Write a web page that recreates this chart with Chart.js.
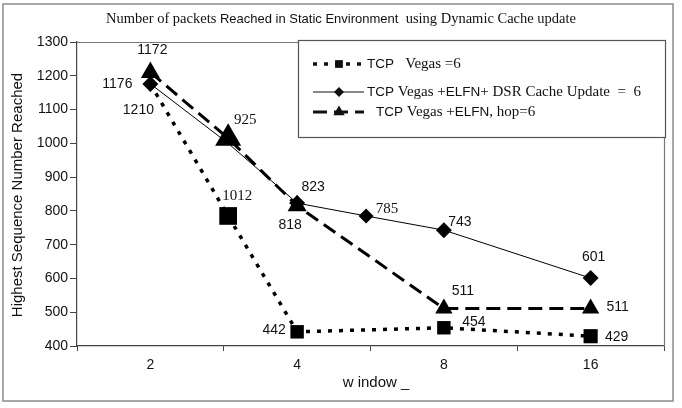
<!DOCTYPE html>
<html>
<head>
<meta charset="utf-8">
<script src="https://cdn.jsdelivr.net/npm/chart.js@4.4.0/dist/chart.umd.min.js"></script>
<style>
  html, body { margin: 0; background: #fff; }
  #wrap { width: 682px; height: 408px; }
</style>
</head>
<body>
<div id="wrap"><canvas id="c"></canvas></div>
<script>
  // Data block
  const xLabels = ['2', '4', '8', '16'];          // category tick labels (positions 0..3)
  const yTicks  = [400, 500, 600, 700, 800, 900, 1000, 1100, 1200, 1300];

  const vegasX      = [0, 0.53, 1, 2, 3];
  const vegasY      = [1176, 785, 442, 454, 429];
  const vegasText   = ['1210', '1012', '442', '454', '429'];

  const dsrX        = [0, 0.53, 1, 1.47, 2, 3];
  const dsrY        = [1176, 1000, 823, 785, 743, 601];
  const dsrText     = ['1176', '', '823', '785', '743', '601'];

  const elfnX       = [0, 0.53, 1, 2, 3];
  const elfnY       = [1210, 1015, 815, 511, 511];
  const elfnText    = ['1172', '925', '818', '511', '511'];

  const seriesNames = [
    'TCP  Vegas =6',
    'TCP Vegas +ELFN+ DSR Cache Update  =  6',
    'TCP Vegas +ELFN, hop=6'
  ];

  const SANS  = '"Liberation Sans", Arial, sans-serif';
  const SERIF = '"Liberation Serif", "Times New Roman", serif';

  const pts = (xs, ys) => xs.map((x, i) => ({ x: x, y: ys[i] }));

  // label offsets (dx, dy) and font per point
  const labelStyle = [
    [[-12, 26, SANS], [9, -20, SERIF], [-23, -2, SANS], [30, -6, SANS], [26, 1, SANS]],
    [[-33, 0, SANS], [0, 0, SANS], [16, -16, SANS], [21, -7, SERIF], [16, -8, SANS], [3, -21, SANS]],
    [[2, -22, SANS], [17, -18, SERIF], [-7, 19, SANS], [19, -17, SANS], [27, -1, SANS]]
  ];
  const labelTexts = [vegasText, dsrText, elfnText];

  // Drawing helpers
  function marker(ctx, style, x, y, r) {
    ctx.beginPath();
    if (style === 'rect') {
      const s = r * Math.SQRT1_2;
      ctx.rect(x - s, y - s, 2 * s, 2 * s);
    } else if (style === 'rectRot') {
      ctx.moveTo(x, y - r); ctx.lineTo(x + r, y); ctx.lineTo(x, y + r); ctx.lineTo(x - r, y);
      ctx.closePath();
    } else {
      ctx.moveTo(x, y - r);
      ctx.lineTo(x + r * 0.866, y + r * 0.5);
      ctx.lineTo(x - r * 0.866, y + r * 0.5);
      ctx.closePath();
    }
    ctx.fill();
  }

  function rich(ctx, parts, x, y, align) {
    let total = 0;
    parts.forEach(p => { ctx.font = p[1]; total += ctx.measureText(p[0]).width; });
    let cx = align === 'center' ? x - total / 2 : x;
    ctx.textAlign = 'left';
    parts.forEach(p => {
      ctx.font = p[1];
      ctx.fillText(p[0], cx, y);
      cx += ctx.measureText(p[0]).width;
    });
  }

  // Plugin - decorations (frame, title, legend, point labels)
  const decor = {
    id: 'decor',
    afterDraw(chart) {
      const { ctx, chartArea: a } = chart;
      ctx.save();

      // outer frame
      ctx.strokeStyle = '#8a8a8a';
      ctx.lineWidth = 1.5;
      ctx.strokeRect(3, 4, 670, 397);

      // plot area top & right border
      ctx.strokeStyle = '#777';
      ctx.lineWidth = 1.2;
      ctx.beginPath();
      ctx.moveTo(a.left, a.top + 0.5); ctx.lineTo(a.right + 0.5, a.top + 0.5); ctx.lineTo(a.right + 0.5, a.bottom);
      ctx.stroke();

      ctx.fillStyle = '#111';
      ctx.textBaseline = 'middle';

      // title
      rich(ctx, [
        ['Number of packets', '14.5px ' + SERIF],
        [' Reached in Static Environment ', '13px ' + SANS],
        [' using Dynamic Cache update', '14.5px ' + SERIF]
      ], 341, 19, 'center');

      // axis titles
      ctx.font = '15px ' + SANS;
      ctx.textAlign = 'center';
      ctx.fillText('w indow _', 376, 383);
      ctx.save();
      ctx.translate(18, 195);
      ctx.rotate(-Math.PI / 2);
      ctx.fillText('Highest Sequence Number Reached', 0, 0);
      ctx.restore();

      // legend box
      ctx.fillStyle = '#fff';
      ctx.fillRect(298, 40, 368, 98);
      ctx.strokeStyle = '#555';
      ctx.lineWidth = 1.2;
      ctx.strokeRect(298.5, 40.5, 367, 97);

      ctx.fillStyle = '#111';
      ctx.strokeStyle = '#111';
      const rows = [64, 92, 112];
      const legR = [5.5, 5, 6.5];
      chart.data.datasets.forEach((ds, i) => {
        const y = rows[i];
        ctx.lineWidth = ds.borderWidth;
        ctx.setLineDash(ds.borderDash || []);
        ctx.beginPath();
        ctx.moveTo(313, y); ctx.lineTo(364, y);
        ctx.stroke();
        ctx.setLineDash([]);
        marker(ctx, ds.pointStyle, 339, y, legR[i]);
      });
      ctx.textBaseline = 'middle';
      rich(ctx, [['TCP', '13.5px ' + SANS], ['   Vegas =6', '15px ' + SERIF]], 367, 64, 'left');
      rich(ctx, [['TCP', '13.5px ' + SANS], [' Vegas +', '15px ' + SERIF], ['ELFN', '13.5px ' + SANS],
                 ['+ DSR Cache Update  =  6', '15px ' + SERIF]], 367, 92, 'left');
      rich(ctx, [['TCP', '13.5px ' + SANS], [' Vegas +', '15px ' + SERIF], ['ELFN', '13.5px ' + SANS],
                 [', hop=6', '15px ' + SERIF]], 376, 112, 'left');

      // point labels
      ctx.textAlign = 'center';
      chart.data.datasets.forEach((ds, i) => {
        const meta = chart.getDatasetMeta(i);
        meta.data.forEach((el, j) => {
          const t = labelTexts[i][j];
          if (!t) return;
          const st = labelStyle[i][j];
          ctx.font = (st[2] === SERIF ? '15px ' : '14px ') + st[2];
          ctx.fillText(t, el.x + st[0], el.y + st[1]);
        });
      });

      ctx.restore();
    }
  };

  // Config block
  const config = {
    type: 'line',
    data: {
      datasets: [
        {
          label: seriesNames[0],
          data: pts(vegasX, vegasY),
          borderColor: '#000',
          backgroundColor: '#000',
          borderWidth: 3.5,
          borderDash: [4, 7],
          pointStyle: 'rect',
          pointRadius: [0, 12.5, 9.5, 9.5, 10],
          pointBorderWidth: 0,
          order: 3
        },
        {
          label: seriesNames[1],
          data: pts(dsrX, dsrY),
          borderColor: '#000',
          backgroundColor: '#000',
          borderWidth: 1,
          pointStyle: 'rectRot',
          pointRadius: [8, 0, 8, 7.5, 8, 8],
          pointBorderWidth: 0,
          order: 2
        },
        {
          label: seriesNames[2],
          data: pts(elfnX, elfnY),
          borderColor: '#000',
          backgroundColor: '#000',
          borderWidth: 3,
          borderDash: [14, 7],
          pointStyle: 'triangle',
          pointRadius: [11, 15, 11, 10, 10],
          pointBorderWidth: 0,
          order: 1
        }
      ]
    },
    options: {
      responsive: true,
      maintainAspectRatio: false,
      animation: false,
      layout: { padding: { top: 42, right: 18, left: 0, bottom: 0 } },
      plugins: { legend: { display: false }, tooltip: { enabled: false } },
      scales: {
        x: {
          type: 'linear',
          min: -0.5,
          max: 3.5,
          afterFit: s => { s.height = 62; },
          afterBuildTicks: s => {
            const t = [];
            for (let v = -0.5; v <= 3.5; v += 0.5) t.push({ value: v });
            s.ticks = t;
          },
          ticks: {
            autoSkip: false,
            maxRotation: 0,
            padding: 6,
            color: '#111',
            font: { family: SANS, size: 14 },
            callback: v => Number.isInteger(v) ? xLabels[v] : ''
          },
          grid: {
            drawOnChartArea: false,
            tickLength: 5,
            color: c => (c.tick && !Number.isInteger(c.tick.value)) ? '#444' : 'rgba(0,0,0,0)'
          },
          border: { color: '#444', width: 1.2 }
        },
        y: {
          min: 400,
          max: 1300,
          afterFit: s => { s.width = 77; },
          afterBuildTicks: s => { s.ticks = yTicks.map(v => ({ value: v })); },
          ticks: {
            padding: 2,
            color: '#111',
            font: { family: SANS, size: 14 },
            callback: v => String(v)
          },
          grid: { drawOnChartArea: false, tickLength: 7, color: '#444' },
          border: { color: '#444', width: 1.2 }
        }
      }
    },
    plugins: [decor]
  };

  // render block
  const mychart = new Chart(document.getElementById('c'), config);
</script>
</body>
</html>
